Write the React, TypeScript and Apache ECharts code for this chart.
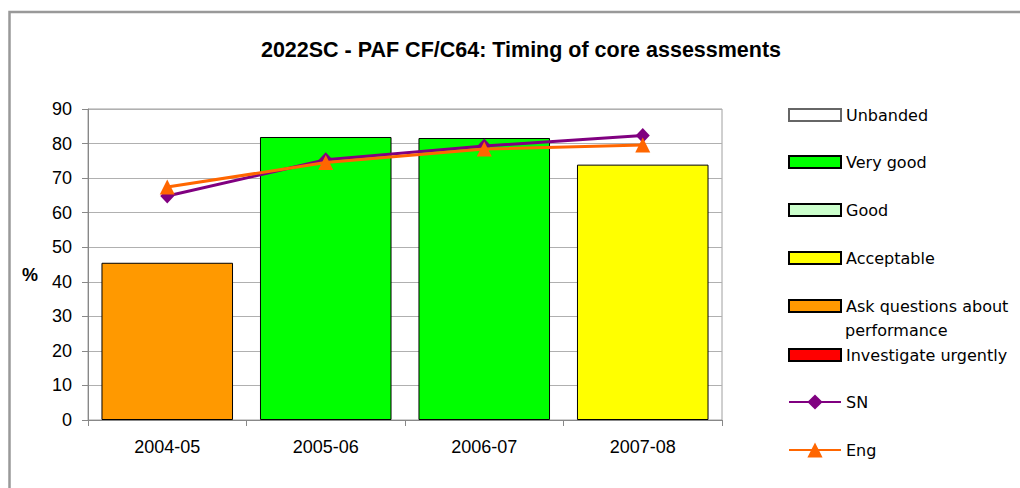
import React, { useEffect, useRef } from 'react';
import * as echarts from 'echarts';

const chartTitle = '2022SC - PAF CF/C64: Timing of core assessments';
const categories = ['2004-05', '2005-06', '2006-07', '2007-08'];
const barValues = [45.5, 81.9, 81.6, 73.9];
const barBands = ['Ask questions about performance', 'Very good', 'Very good', 'Acceptable'];
const snValues = [64.8, 75.3, 79.3, 82.3];
const engValues = [67.4, 74.5, 78.4, 79.6];
const bandNames = ['Unbanded', 'Very good', 'Good', 'Acceptable', 'Ask questions about performance', 'Investigate urgently'];
const bandColors = ['#ffffff', '#00ff00', '#ccffcc', '#ffff00', '#ff9900', '#ff0000'];
const bandBorders = ['#666666', '#000000', '#000000', '#000000', '#000000', '#000000'];
const lineNames = ['SN', 'Eng'];
const legendNames = [...bandNames, ...lineNames];
const legendCenters = [115, 162, 210, 258, 306, 355, 402, 450];

export default function App() {
  const ref = useRef<HTMLDivElement>(null);
  useEffect(() => {
    if (!ref.current) return;
    const chart = echarts.init(ref.current, null, { renderer: 'svg' });
    const barSeries = bandNames.map((name, k) => ({
      name,
      type: 'bar',
      stack: 'band',
      barCategoryGap: '17%',
      itemStyle: { color: bandColors[k], borderColor: bandBorders[k], borderWidth: 1 },
      data: barValues.map((v, i) => (barBands[i] === name ? v : '-')),
    }));
    const legends = legendNames.map((name, k) => {
      const isLine = lineNames.includes(name);
      const h = isLine ? 19 : 12;
      return {
        data: [isLine ? { name } : { name, icon: 'rect' }],
        left: 788,
        top: legendCenters[k] - (isLine ? 10 : 10),
        orient: 'vertical',
        padding: 0,
        itemWidth: 52,
        itemHeight: h,
        selectedMode: false,
        formatter: (n: string) => (n === 'Ask questions about performance' ? 'Ask questions about' : n),
        textStyle: { fontFamily: 'DejaVu Sans', fontSize: 16, color: '#000', lineHeight: 20 },
      };
    });
    chart.setOption({
      animation: false,
      backgroundColor: '#ffffff',
      grid: { left: 88, top: 109, right: 298, bottom: 68, show: true, borderColor: '#a0a0a0', borderWidth: 1 },
      legend: legends,
      xAxis: {
        type: 'category',
        data: categories,
        axisLine: { lineStyle: { color: '#888', width: 1 } },
        axisTick: { show: true, length: 6, lineStyle: { color: '#888' } },
        axisLabel: { color: '#000', fontFamily: 'Liberation Sans', fontSize: 18, margin: 18 },
      },
      yAxis: {
        type: 'value',
        min: 0,
        max: 90,
        interval: 10,
        axisLine: { show: true, lineStyle: { color: '#888', width: 1 } },
        axisTick: { show: true, length: 6, lineStyle: { color: '#888' } },
        axisLabel: { color: '#000', fontFamily: 'Liberation Sans', fontSize: 18, margin: 16 },
        splitLine: { lineStyle: { color: '#b0b0b0', width: 1 } },
      },
      graphic: [
        {
          type: 'rect',
          shape: { x: 9.5, y: 12, width: 1100, height: 600 },
          style: { fill: 'none', stroke: '#999', lineWidth: 2.5 },
          silent: true,
        },
        {
          type: 'text',
          x: 521,
          y: 50,
          style: {
            text: chartTitle,
            font: 'bold 21.5px "Liberation Sans", Arial, sans-serif',
            fill: '#000',
            textAlign: 'center',
            textVerticalAlign: 'middle',
          },
        },
        {
          type: 'text',
          x: 30,
          y: 275,
          style: {
            text: '%',
            font: 'bold 18px "Liberation Sans", Arial, sans-serif',
            fill: '#000',
            textAlign: 'center',
            textVerticalAlign: 'middle',
          },
        },
        {
          type: 'text',
          x: 845,
          y: 330,
          style: {
            text: 'performance',
            font: '16px "DejaVu Sans"',
            fill: '#000',
            textAlign: 'left',
            textVerticalAlign: 'middle',
          },
        },
      ],
      series: [
        ...barSeries,
        {
          name: 'SN',
          type: 'line',
          data: snValues,
          symbol: 'diamond',
          symbolSize: [14, 15],
          lineStyle: { color: '#800080', width: 3 },
          itemStyle: { color: '#800080' },
          z: 3,
        },
        {
          name: 'Eng',
          type: 'line',
          data: engValues,
          symbol: 'triangle',
          symbolSize: [15, 15],
          lineStyle: { color: '#ff6600', width: 3 },
          itemStyle: { color: '#ff6600' },
          z: 4,
        },
      ],
    });
    return () => chart.dispose();
  }, []);
  return <div ref={ref} style={{ position: 'fixed', left: 0, top: 0, width: 1020, height: 488 }} />;
}
